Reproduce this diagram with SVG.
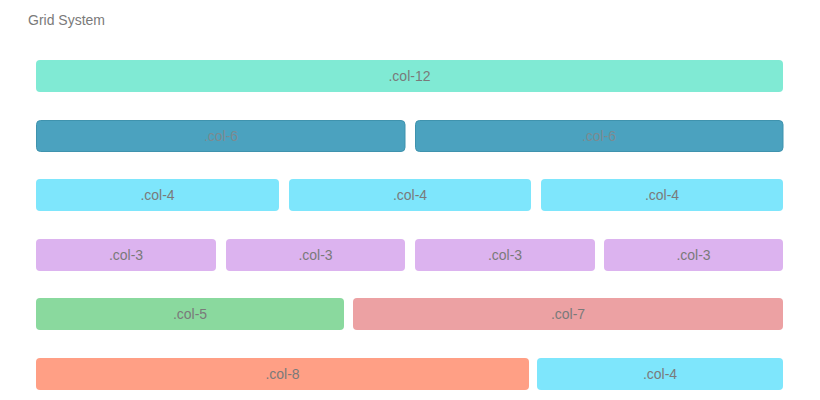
<svg xmlns="http://www.w3.org/2000/svg" width="820" height="400" viewBox="0 0 820 400">
<style>
text{font-family:"Liberation Sans",Arial,sans-serif;font-size:14px;fill:#7a7a7a}
.lbl{text-anchor:middle}
.c12{fill:#80ead4}
.c6{fill:#4ba2bf;stroke:#3f93ae;stroke-width:1}
.c4{fill:#7ee6fc}
.c3{fill:#dcb3ef}
.c5{fill:#8ad99e}
.c7{fill:#eca1a3}
.c8{fill:#ff9f85}
.d{fill:#7c8a90}
</style>
<rect width="820" height="400" fill="#ffffff"/>
<text x="28" y="25">Grid System</text>
<g id="row1">
<g id="r1c1"><rect class="c12" x="36" y="60" width="747" height="32" rx="4"/><text class="lbl" x="409.5" y="81">.col-12</text></g>
</g>
<g id="row2">
<g id="r2c1"><rect class="c6" x="36.5" y="120.5" width="368.5" height="31" rx="4"/><text class="lbl d" x="221" y="141">.col-6</text></g>
<g id="r2c2"><rect class="c6" x="415.5" y="120.5" width="367.5" height="31" rx="4"/><text class="lbl d" x="599" y="141">.col-6</text></g>
</g>
<g id="row3">
<g id="r3c1"><rect class="c4" x="36" y="179" width="243" height="32" rx="4"/><text class="lbl" x="157.5" y="200">.col-4</text></g>
<g id="r3c2"><rect class="c4" x="289" y="179" width="242" height="32" rx="4"/><text class="lbl" x="410" y="200">.col-4</text></g>
<g id="r3c3"><rect class="c4" x="541" y="179" width="242" height="32" rx="4"/><text class="lbl" x="662" y="200">.col-4</text></g>
</g>
<g id="row4">
<g id="r4c1"><rect class="c3" x="36" y="239" width="180" height="32" rx="4"/><text class="lbl" x="126" y="260">.col-3</text></g>
<g id="r4c2"><rect class="c3" x="226" y="239" width="179" height="32" rx="4"/><text class="lbl" x="315.5" y="260">.col-3</text></g>
<g id="r4c3"><rect class="c3" x="415" y="239" width="180" height="32" rx="4"/><text class="lbl" x="505" y="260">.col-3</text></g>
<g id="r4c4"><rect class="c3" x="604" y="239" width="179" height="32" rx="4"/><text class="lbl" x="693.5" y="260">.col-3</text></g>
</g>
<g id="row5">
<g id="r5c1"><rect class="c5" x="36" y="298" width="308" height="32" rx="4"/><text class="lbl" x="190" y="319">.col-5</text></g>
<g id="r5c2"><rect class="c7" x="353" y="298" width="430" height="32" rx="4"/><text class="lbl" x="568" y="319">.col-7</text></g>
</g>
<g id="row6">
<g id="r6c1"><rect class="c8" x="36" y="358" width="493" height="32" rx="4"/><text class="lbl" x="282.5" y="379">.col-8</text></g>
<g id="r6c2"><rect class="c4" x="537" y="358" width="246" height="32" rx="4"/><text class="lbl" x="660" y="379">.col-4</text></g>
</g>
<g id="connectors"/>
</svg>
